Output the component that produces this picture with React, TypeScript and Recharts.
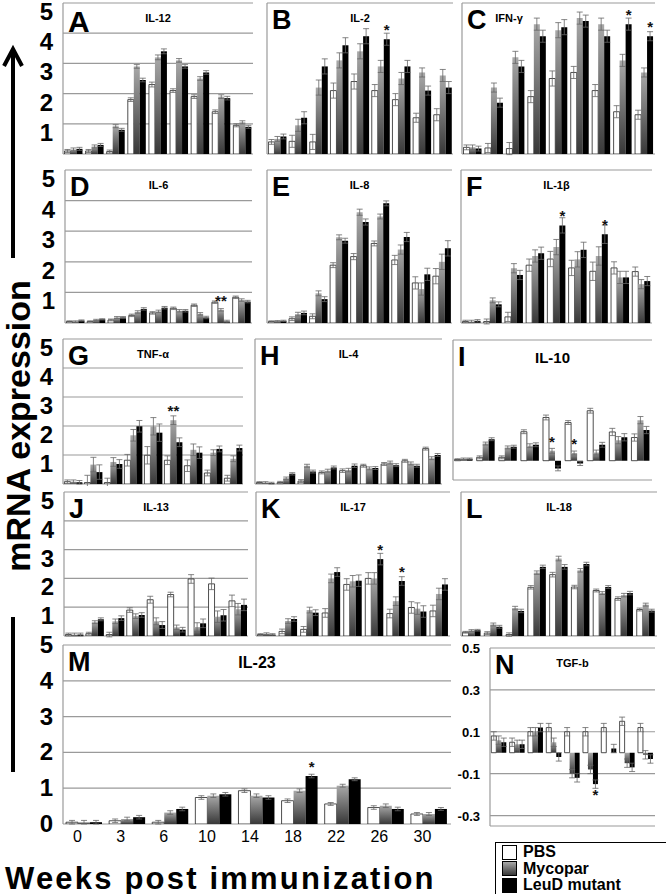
import React from 'react';
import { BarChart, Bar, XAxis, YAxis, CartesianGrid, ErrorBar, LabelList } from 'recharts';

const WEEKS = ['0', '3', '6', '10', '14', '18', '22', '26', '30'];

// A IL-12
const IL12_PBS = [0.1, 0.1, 0.08, 1.8, 2.3, 2.1, 1.9, 1.4, 0.95];
const IL12_MYC = [0.15, 0.25, 0.92, 2.9, 3.2, 3.1, 2.5, 1.9, 1.05];
const IL12_LEUD = [0.17, 0.3, 0.8, 2.45, 3.4, 2.9, 2.7, 1.85, 0.9];
const IL12_ERR = [0.05, 0.05, 0.05, 0.06, 0.08, 0.06, 0.06, 0.06, 0.05];
// B IL-2
const IL2_PBS = [0.4, 0.42, 0.4, 2.1, 2.4, 2.1, 1.8, 1.2, 1.3];
const IL2_MYC = [0.5, 0.95, 2.2, 3.1, 3.4, 2.9, 2.5, 2.7, 2.6];
const IL2_LEUD = [0.58, 1.2, 2.9, 3.6, 3.9, 3.8, 2.9, 2.1, 2.2];
const IL2_ERR = [0.08, 0.2, 0.25, 0.25, 0.25, 0.2, 0.2, 0.15, 0.2];
// C IFN-g
const IFN_PBS = [0.22, 0.2, 0.18, 1.9, 2.5, 2.7, 2.1, 1.4, 1.3];
const IFN_MYC = [0.22, 2.2, 3.2, 4.3, 4.1, 4.5, 4.3, 3.1, 2.7];
const IFN_LEUD = [0.18, 1.7, 2.9, 3.9, 4.2, 4.4, 3.9, 4.3, 3.9];
const IFN_ERR = [0.08, 0.15, 0.2, 0.2, 0.25, 0.2, 0.2, 0.2, 0.15];
// D IL-6
const IL6_PBS = [0.05, 0.05, 0.1, 0.25, 0.33, 0.48, 0.58, 0.68, 0.84];
const IL6_MYC = [0.05, 0.1, 0.18, 0.36, 0.38, 0.4, 0.3, 0.43, 0.75];
const IL6_LEUD = [0.08, 0.12, 0.18, 0.46, 0.5, 0.4, 0.18, 0.05, 0.7];
const IL6_ERR = [0.02, 0.02, 0.03, 0.04, 0.04, 0.04, 0.04, 0.04, 0.04];
// E IL-8
const IL8_PBS = [0.05, 0.14, 0.22, 1.89, 2.17, 2.6, 2.06, 1.31, 1.53];
const IL8_MYC = [0.06, 0.29, 0.97, 2.8, 3.62, 3.48, 2.4, 1.11, 2.0];
const IL8_LEUD = [0.07, 0.33, 0.78, 2.69, 3.3, 3.91, 2.81, 1.59, 2.44];
const IL8_ERR = [0.02, 0.06, 0.08, 0.08, 0.1, 0.08, 0.15, 0.2, 0.25];
// F IL-1b
const IL1B_PBS = [0.05, 0.05, 0.2, 1.89, 2.09, 1.8, 1.69, 1.8, 1.68];
const IL1B_MYC = [0.05, 0.74, 1.79, 2.19, 2.48, 2.08, 2.19, 1.49, 1.27];
const IL1B_LEUD = [0.07, 0.61, 1.57, 2.28, 3.19, 2.39, 2.9, 1.49, 1.37];
const IL1B_ERR = [0.04, 0.08, 0.15, 0.2, 0.25, 0.25, 0.3, 0.2, 0.15];
// G TNF-a
const TNF_PBS = [0.08, 0.05, 0.05, 0.82, 0.99, 0.82, 0.63, 0.38, 0.2];
const TNF_MYC = [0.08, 0.67, 0.76, 1.68, 1.99, 2.2, 1.18, 1.08, 0.87];
const TNF_LEUD = [0.06, 0.41, 0.69, 1.99, 1.77, 1.44, 1.08, 1.21, 1.24];
const TNF_ERR = [0.06, 0.25, 0.15, 0.2, 0.3, 0.15, 0.2, 0.1, 0.1];
// H IL-4
const IL4_PBS = [0.05, 0.05, 0.1, 0.4, 0.46, 0.63, 0.69, 0.8, 1.22];
const IL4_MYC = [0.05, 0.2, 0.63, 0.46, 0.48, 0.54, 0.74, 0.71, 0.89];
const IL4_LEUD = [0.03, 0.35, 0.43, 0.57, 0.63, 0.55, 0.65, 0.63, 1.0];
const IL4_ERR = [0.03, 0.04, 0.05, 0.05, 0.06, 0.05, 0.05, 0.05, 0.05];
// I IL-10
const IL10_PBS = [0.05, 0.14, 0.14, 1.2, 1.79, 1.58, 2.07, 1.19, 0.96];
const IL10_MYC = [0.08, 0.71, 0.55, 0.62, 0.41, 0.32, 0.34, 0.85, 1.68];
const IL10_LEUD = [0.08, 0.89, 0.58, 0.66, -0.32, -0.12, 0.66, 0.97, 1.27];
const IL10_ERR = [0.03, 0.06, 0.06, 0.08, 0.1, 0.08, 0.1, 0.15, 0.15];
// J IL-13
const IL13_PBS = [0.05, 0.08, 0.05, 0.9, 1.26, 1.44, 1.98, 1.81, 1.22];
const IL13_MYC = [0.05, 0.48, 0.51, 0.69, 0.51, 0.3, 0.31, 0.67, 0.93];
const IL13_LEUD = [0.05, 0.58, 0.62, 0.73, 0.38, 0.22, 0.44, 0.72, 1.08];
const IL13_ERR = [0.05, 0.05, 0.08, 0.08, 0.12, 0.08, 0.15, 0.2, 0.2];
// K IL-17
const IL17_PBS = [0.05, 0.16, 0.23, 0.8, 1.79, 2.0, 0.78, 0.99, 0.87];
const IL17_MYC = [0.08, 0.52, 0.9, 2.0, 1.9, 2.0, 1.21, 0.95, 1.46];
const IL17_LEUD = [0.05, 0.59, 0.81, 2.22, 1.92, 2.67, 1.91, 0.85, 1.79];
const IL17_ERR = [0.03, 0.08, 0.1, 0.15, 0.2, 0.2, 0.15, 0.2, 0.2];
// L IL-18
const IL18_PBS = [0.13, 0.1, 0.05, 1.69, 2.13, 1.7, 1.58, 1.3, 0.92];
const IL18_MYC = [0.19, 0.4, 0.97, 2.2, 2.69, 2.28, 1.49, 1.42, 1.09];
const IL18_LEUD = [0.2, 0.32, 0.87, 2.4, 2.4, 2.5, 1.7, 1.49, 0.88];
const IL18_ERR = [0.03, 0.05, 0.06, 0.06, 0.08, 0.06, 0.05, 0.06, 0.05];
// M IL-23
const IL23_PBS = [0.05, 0.09, 0.05, 0.74, 0.93, 0.65, 0.56, 0.46, 0.28];
const IL23_MYC = [0.05, 0.14, 0.32, 0.79, 0.79, 0.93, 1.07, 0.51, 0.28];
const IL23_LEUD = [0.05, 0.19, 0.42, 0.83, 0.74, 1.34, 1.25, 0.42, 0.42];
const IL23_ERR = [0.05, 0.05, 0.05, 0.05, 0.05, 0.05, 0.04, 0.05, 0.04];
// N TGF-b
const TGF_PBS = [0.08, 0.05, 0.1, 0.12, 0.1, 0.1, 0.12, 0.15, 0.12];
const TGF_MYC = [0.06, 0.04, 0.1, 0.05, -0.1, -0.08, 0.0, -0.05, -0.01];
const TGF_LEUD = [0.05, 0.04, 0.12, -0.02, -0.12, -0.15, 0.02, -0.07, -0.03];
const TGF_ERR = [0.02, 0.02, 0.02, 0.02, 0.02, 0.02, 0.02, 0.02, 0.02];

type Series = 'pbs' | 'myc' | 'leud';
type Mark = { s: Series; i: number; t: string };

interface Panel {
  letter: string;
  title: string;
  pbs: number[];
  myc: number[];
  leud: number[];
  err: number[];
  marks: Mark[];
  domain: [number, number];
  ticks: number[];
  // layout
  x: number; y: number; w: number; h: number;
  labels?: 'row' | 'm' | 'n';
  xLabels?: boolean;
  titleX?: number;
  titleSize?: number;
  letterSize?: number;
}

const FONT = '"Liberation Sans", Arial, sans-serif';
const UNIT = [0, 1, 2, 3, 4, 5];

const PANELS: Panel[] = [
  { letter: 'A', title: 'IL-12', pbs: IL12_PBS, myc: IL12_MYC, leud: IL12_LEUD, err: IL12_ERR, marks: [],
    domain: [0, 5], ticks: UNIT, x: 63, y: 3, w: 190, h: 151, labels: 'row', letterSize: 30 },
  { letter: 'B', title: 'IL-2', pbs: IL2_PBS, myc: IL2_MYC, leud: IL2_LEUD, err: IL2_ERR, marks: [{ s: 'leud', i: 5, t: '*' }],
    domain: [0, 5], ticks: UNIT, x: 267, y: 3, w: 186, h: 151 },
  { letter: 'C', title: 'IFN-γ', pbs: IFN_PBS, myc: IFN_MYC, leud: IFN_LEUD, err: IFN_ERR,
    marks: [{ s: 'leud', i: 7, t: '*' }, { s: 'leud', i: 8, t: '*' }],
    domain: [0, 5], ticks: UNIT, x: 462, y: 3, w: 193, h: 151, titleX: 509 },
  { letter: 'D', title: 'IL-6', pbs: IL6_PBS, myc: IL6_MYC, leud: IL6_LEUD, err: IL6_ERR, marks: [{ s: 'myc', i: 7, t: '**' }],
    domain: [0, 5], ticks: UNIT, x: 65, y: 170, w: 187, h: 153, labels: 'row' },
  { letter: 'E', title: 'IL-8', pbs: IL8_PBS, myc: IL8_MYC, leud: IL8_LEUD, err: IL8_ERR, marks: [],
    domain: [0, 5], ticks: UNIT, x: 267, y: 170, w: 185, h: 153 },
  { letter: 'F', title: 'IL-1β', pbs: IL1B_PBS, myc: IL1B_MYC, leud: IL1B_LEUD, err: IL1B_ERR,
    marks: [{ s: 'leud', i: 4, t: '*' }, { s: 'leud', i: 6, t: '*' }],
    domain: [0, 5], ticks: UNIT, x: 461, y: 170, w: 191, h: 153 },
  { letter: 'G', title: 'TNF-α', pbs: TNF_PBS, myc: TNF_MYC, leud: TNF_LEUD, err: TNF_ERR, marks: [{ s: 'myc', i: 5, t: '**' }],
    domain: [0, 5], ticks: UNIT, x: 63, y: 339, w: 180, h: 145, labels: 'row' },
  { letter: 'H', title: 'IL-4', pbs: IL4_PBS, myc: IL4_MYC, leud: IL4_LEUD, err: IL4_ERR, marks: [],
    domain: [0, 5], ticks: UNIT, x: 255, y: 339, w: 187, h: 145 },
  { letter: 'I', title: 'IL-10', pbs: IL10_PBS, myc: IL10_MYC, leud: IL10_LEUD, err: IL10_ERR,
    marks: [{ s: 'myc', i: 4, t: '*' }, { s: 'myc', i: 5, t: '*' }],
    domain: [-0.8, 5], ticks: UNIT, x: 453, y: 340, w: 199, h: 140, titleSize: 15 },
  { letter: 'J', title: 'IL-13', pbs: IL13_PBS, myc: IL13_MYC, leud: IL13_LEUD, err: IL13_ERR, marks: [],
    domain: [0, 5], ticks: UNIT, x: 64, y: 492, w: 184, h: 144, labels: 'row' },
  { letter: 'K', title: 'IL-17', pbs: IL17_PBS, myc: IL17_MYC, leud: IL17_LEUD, err: IL17_ERR,
    marks: [{ s: 'leud', i: 5, t: '*' }, { s: 'leud', i: 6, t: '*' }],
    domain: [0, 5], ticks: UNIT, x: 256, y: 492, w: 194, h: 144 },
  { letter: 'L', title: 'IL-18', pbs: IL18_PBS, myc: IL18_MYC, leud: IL18_LEUD, err: IL18_ERR, marks: [],
    domain: [0, 5], ticks: UNIT, x: 461, y: 492, w: 196, h: 144 },
  { letter: 'M', title: 'IL-23', pbs: IL23_PBS, myc: IL23_MYC, leud: IL23_LEUD, err: IL23_ERR, marks: [{ s: 'leud', i: 5, t: '*' }],
    domain: [0, 5], ticks: UNIT, x: 63, y: 645, w: 388, h: 203, labels: 'm', xLabels: true, titleSize: 16 },
  { letter: 'N', title: 'TGF-b', pbs: TGF_PBS, myc: TGF_MYC, leud: TGF_LEUD, err: TGF_ERR, marks: [{ s: 'leud', i: 5, t: '*' }],
    domain: [-0.35, 0.5], ticks: [-0.3, -0.1, 0.1, 0.3, 0.5], x: 490, y: 648, w: 165, h: 178, labels: 'n' },
];

const Star = (props: any) => {
  const { x, y, width, height, value } = props;
  if (!value) return null;
  const below = height < 0;
  return (
    <text x={x + width / 2} y={below ? y + 16 : y - 4} textAnchor="middle" fontSize={15}
      fontWeight="bold" fontFamily={FONT} fill="#111">{value}</text>
  );
};

// row panels: label hangs below its gridline and 0 is not labelled
const YTick = (props: any) => {
  const { x, y, payload, kind } = props;
  if (kind === 'row' && payload.value === 0) return null;
  const dy = kind === 'row' ? 17 : kind === 'm' ? 8 : 5;
  return (
    <text x={x - 2} y={y + dy} textAnchor="end" fontSize={kind === 'n' ? 13 : 24}
      fontWeight="bold" fontFamily={FONT} fill="#000">{payload.value}</text>
  );
};

const XTick = (props: any) => {
  const { x, y, payload } = props;
  return (
    <text x={x - 7} y={y + 10} textAnchor="middle" fontSize={16} fontFamily={FONT} fill="#000">{payload.value}</text>
  );
};

function PanelChart({ p }: { p: Panel }) {
  const axisW = p.labels ? (p.labels === 'n' ? 34 : 40) : 1;
  const top = 14;
  const bottom = p.xLabels ? 24 : 2;
  const rows = WEEKS.map((wk, i) => {
    const r: any = { week: wk, pbs: p.pbs[i], myc: p.myc[i], leud: p.leud[i], err: p.err[i] };
    p.marks.filter((m) => m.i === i).forEach((m) => { r[m.s + 'Mark'] = m.t; });
    return r;
  });
  const gid = 'myc-' + p.letter;
  return (
    <div style={{ position: 'absolute', left: p.x - axisW, top: p.y - top }}>
      <BarChart width={p.w + axisW + 2} height={p.h + top + bottom} data={rows}
        margin={{ top, right: 2, left: 0, bottom }} barCategoryGap="7%" barGap={0}>
        <defs>
          <linearGradient id={gid} x1="0" y1="0" x2="0" y2="1">
            <stop offset="0%" stopColor="#a8a8a8" />
            <stop offset="100%" stopColor="#383838" />
          </linearGradient>
        </defs>
        <CartesianGrid vertical={false} stroke="#9a9a9a" strokeWidth={1.2} />
        <XAxis dataKey="week" hide={!p.xLabels} axisLine={false} tickLine={false}
          tick={<XTick />} interval={0} height={bottom} />
        <YAxis width={axisW} domain={p.domain} ticks={p.ticks} interval={0} allowDataOverflow
          axisLine={{ stroke: '#9a9a9a', strokeWidth: 1.2 }} tickLine={false}
          tick={p.labels ? <YTick kind={p.labels} /> : false} />
        <Bar dataKey="pbs" fill="#ffffff" stroke="#222" strokeWidth={0.8} isAnimationActive={false}>
          <ErrorBar dataKey="err" width={3} stroke="#666" strokeWidth={0.8} />
          <LabelList dataKey="pbsMark" content={<Star />} />
        </Bar>
        <Bar dataKey="myc" fill={`url(#${gid})`} isAnimationActive={false}>
          <ErrorBar dataKey="err" width={3} stroke="#666" strokeWidth={0.8} />
          <LabelList dataKey="mycMark" content={<Star />} />
        </Bar>
        <Bar dataKey="leud" fill="#000000" isAnimationActive={false}>
          <ErrorBar dataKey="err" width={3} stroke="#666" strokeWidth={0.8} />
          <LabelList dataKey="leudMark" content={<Star />} />
        </Bar>
      </BarChart>
      <div style={{ position: 'absolute', left: axisW + 5, top: top + 4, fontFamily: FONT, fontWeight: 'bold',
        fontSize: p.letterSize ?? 27, lineHeight: 1, color: '#000' }}>{p.letter}</div>
      <div style={{ position: 'absolute', left: (p.titleX ? p.titleX - p.x : p.w / 2) + axisW - 40, width: 80,
        top: top + 10, textAlign: 'center', fontFamily: FONT, fontWeight: 'bold', fontSize: p.titleSize ?? 11,
        lineHeight: 1, color: '#000' }}>{p.title}</div>
    </div>
  );
}

export default function App() {
  return (
    <div style={{ position: 'absolute', left: 0, top: 0, width: 666, height: 894, background: '#fff', overflow: 'hidden' }}>
      {PANELS.map((p) => <PanelChart key={p.letter} p={p} />)}
      <svg width={40} height={894} style={{ position: 'absolute', left: 0, top: 0 }}>
        <line x1={13} y1={50} x2={13} y2={258} stroke="#000" strokeWidth={4} />
        <polyline points="4,66 13,49 22,66" fill="none" stroke="#000" strokeWidth={4} />
        <line x1={13} y1={617} x2={13} y2={772} stroke="#000" strokeWidth={4} />
        <text transform="translate(30,426) rotate(-90)" textAnchor="middle" fontFamily={FONT} fontWeight="bold"
          fontSize={34} fill="#000">mRNA expression</text>
      </svg>
      <div style={{ position: 'absolute', left: 5, top: 863, fontFamily: FONT, fontWeight: 'bold', fontSize: 31,
        letterSpacing: 2.2, lineHeight: 1, whiteSpace: 'nowrap' }}>Weeks post immunization</div>
      <div style={{ position: 'absolute', left: 495, top: 842, width: 175, height: 54, border: '1px solid #000',
        background: '#fff', boxSizing: 'border-box', fontFamily: FONT, fontWeight: 'bold', fontSize: 16 }}>
        {[['PBS', '#fff'], ['Mycopar', 'linear-gradient(#a8a8a8,#383838)'], ['LeuD mutant', '#000']].map(([t, c], i) => (
          <div key={t} style={{ position: 'absolute', left: 6, top: 1 + i * 16.5, height: 16, lineHeight: '16px', display: 'flex', alignItems: 'center', whiteSpace: 'nowrap' }}>
            <span style={{ display: 'inline-block', width: 13, height: 13, background: c, border: '1px solid #000', marginRight: 6 }} />
            {t}
          </div>
        ))}
      </div>
    </div>
  );
}
